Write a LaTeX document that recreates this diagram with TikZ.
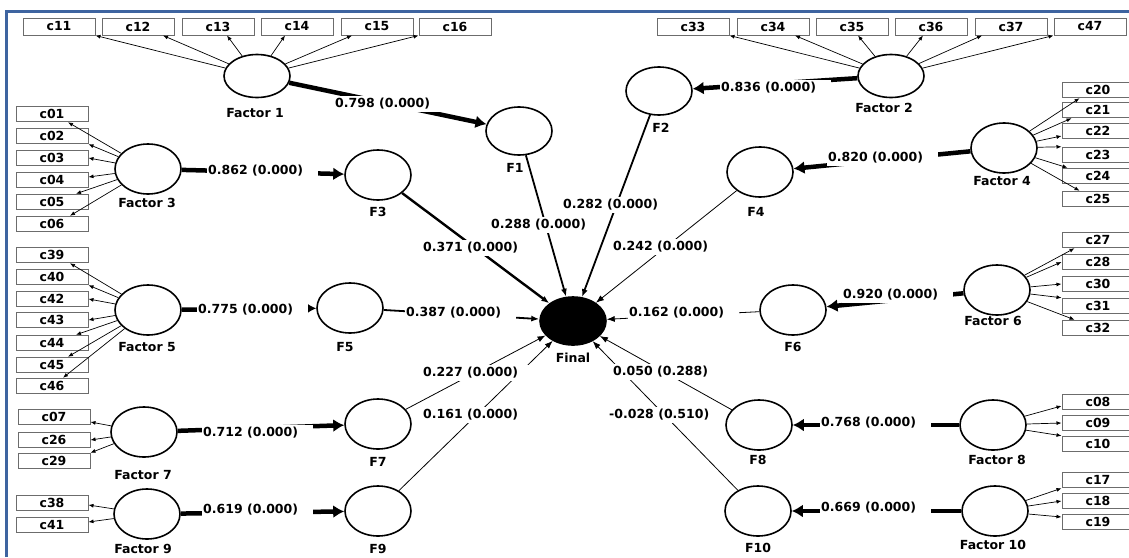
\documentclass[tikz,border=0pt]{standalone}
\usepackage{fontspec}
\setmainfont{DejaVu Sans}
\usetikzlibrary{shapes.geometric,arrows.meta,calc}
\definecolor{framecol}{RGB}{62,100,160}
\newcommand{\coefl}[1]{#1\kern14pt}
\begin{document}
\begin{tikzpicture}[x=1pt,y=-1pt,
  font=\fontsize{12.5}{14}\selectfont\bfseries,
  lv/.style={ellipse,draw,line width=1.6pt,minimum width=66pt,minimum height=50pt,inner sep=0pt},
  ind/.style={rectangle,draw=gray!85!black,line width=1pt,minimum width=72pt,minimum height=15.5pt,inner sep=0pt},
  txt/.style={inner sep=0pt},
  lbl/.style={fill=white,inner xsep=1pt,inner ysep=2pt,anchor=west},
  loadarrow/.style={line width=0.7pt,-{Latex[length=5pt,width=4pt]}},
  facarrow/.style={line width=4.5pt,-{Latex[length=11pt,width=13pt]}},
  finarrow/.style={line width=0.8pt,-{Latex[length=8pt,width=6pt]}},
]
\useasboundingbox (0,0) rectangle (1129,557);
\clip (0,0) rectangle (1129,557);
\fill[white] (0,0) rectangle (1129,557);
\draw[framecol,line width=3pt] (6,557) -- (6,11) -- (1135,11);

% latent variables
\node[lv,minimum height=43pt] (fa1) at (257,76) {};
\node[lv,minimum height=43pt] (fa2) at (891,76) {};
\node[lv] (fa3) at (148,169) {};
\node[lv] (fa4) at (1004,148) {};
\node[lv] (fa5) at (148,310) {};
\node[lv] (fa6) at (997,290) {};
\node[lv] (fa7) at (144,432) {};
\node[lv] (fa8) at (993,425) {};
\node[lv] (fa9) at (147,514) {};
\node[lv] (fa10) at (995,511) {};
\node[lv,minimum height=48pt] (f1) at (519,131) {};
\node[lv,minimum height=48pt] (f2) at (659,91) {};
\node[lv] (f3) at (378,175) {};
\node[lv] (f4) at (760,172) {};
\node[lv] (f5) at (350,308) {};
\node[lv] (f6) at (793,310) {};
\node[lv] (f7) at (378,424) {};
\node[lv] (f8) at (759,425) {};
\node[lv] (f9) at (378,511) {};
\node[lv] (f10) at (758,511) {};
\node[lv,minimum height=48pt,fill=black] (fin) at (573,321) {};

% names
\node[txt] (tfa1) at (255,113) {Factor 1};
\node[txt] (tfa2) at (884,108) {Factor 2};
\node[txt] (tfa3) at (147,203) {Factor 3};
\node[txt] (tfa4) at (1002,181) {Factor 4};
\node[txt] (tfa5) at (147,347) {Factor 5};
\node[txt] (tfa6) at (993,321) {Factor 6};
\node[txt] (tfa7) at (143,475) {Factor 7};
\node[txt] (tfa8) at (997,460) {Factor 8};
\node[txt] (tfa9) at (143,549) {Factor 9};
\node[txt] (tfa10) at (993,545) {Factor 10};
\node[txt] (tf1) at (515,168) {F1};
\node[txt] (tf2) at (661,128) {F2};
\node[txt] (tf3) at (378,212) {F3};
\node[txt] (tf4) at (756,212) {F4};
\node[txt] (tf5) at (345,347) {F5};
\node[txt] (tf6) at (793,347) {F6};
\node[txt] (tf7) at (378,462) {F7};
\node[txt] (tf8) at (758,460) {F8};
\node[txt] (tf9) at (378,549) {F9};
\node[txt] (tf10) at (758,548) {F10};
\node[txt] (tfin) at (573,358) {Final};

% indicators
\foreach \n/\x in {c11/59,c12/138,c13/218,c14/297,c15/377,c16/455,c33/693,c34/773,c35/852,c36/931,c37/1011,c47/1090}
  \node[ind,minimum height=17pt] (\n) at (\x,26.5) {\n};
\foreach \n/\y in {c01/114,c02/136,c03/158,c04/180,c05/202,c06/224,c39/255,c40/277,c42/299,c43/320,c44/343,c45/365,c46/386,c38/503,c41/525}
  \node[ind] (\n) at (52,\y) {\n};
\foreach \n/\y in {c07/417,c26/440,c29/461}
  \node[ind] (\n) at (54,\y) {\n};
\foreach \n/\y in {c20/90,c21/110,c22/131,c23/155,c24/176,c25/199,c27/240,c28/262,c30/284,c31/306,c32/328,c08/402,c09/423,c10/444,c17/480,c18/501,c19/522}
  \node[ind] (\n) at (1098,\y) {\n};

% loadings
\draw[loadarrow] (fa1) -- (c11.south east);
\draw[loadarrow] (fa1) -- ($(c12.south)+(25,0)$);
\draw[loadarrow] (fa1) -- ($(c13.south)+(9,0)$);
\draw[loadarrow] (fa1) -- ($(c14.south)+(-12,0)$);
\draw[loadarrow] (fa1) -- ($(c15.south)+(-25,0)$);
\draw[loadarrow] (fa1) -- (c16.south west);
\draw[loadarrow] (fa2) -- (c33.south east);
\draw[loadarrow] (fa2) -- ($(c34.south)+(22,0)$);
\draw[loadarrow] (fa2) -- ($(c35.south)+(6,0)$);
\draw[loadarrow] (fa2) -- ($(c36.south)+(-8,0)$);
\draw[loadarrow] (fa2) -- ($(c37.south)+(-29,0)$);
\draw[loadarrow] (fa2) -- (c47.south west);
\draw[loadarrow] (fa3) -- ($(c01.south)+(16,0)$);
\draw[loadarrow] (fa3) -- (c02.south east);
\draw[loadarrow] (fa3) -- (c03.east);
\draw[loadarrow] (fa3) -- ($(c04.east)+(0,-3)$);
\draw[loadarrow] (fa3) -- ($(c05.north)+(24,0)$);
\draw[loadarrow] (fa3) -- ($(c06.north)+(18,0)$);
\draw[loadarrow] (fa5) -- ($(c39.south)+(18,0)$);
\draw[loadarrow] (fa5) -- (c40.south east);
\draw[loadarrow] (fa5) -- (c42.east);
\draw[loadarrow] (fa5) -- (c43.east);
\draw[loadarrow] (fa5) -- ($(c44.north)+(24,0)$);
\draw[loadarrow] (fa5) -- ($(c45.north)+(16,0)$);
\draw[loadarrow] (fa5) -- ($(c46.north)+(11,0)$);
\draw[loadarrow] (fa7) -- ($(c07.east)+(0,5)$);
\draw[loadarrow] (fa7) -- (c26.east);
\draw[loadarrow] (fa7) -- (c29.north east);
\draw[loadarrow] (fa9) -- ($(c38.east)+(0,2)$);
\draw[loadarrow] (fa9) -- ($(c41.east)+(0,-3)$);
\draw[loadarrow] (fa4) -- ($(c20.south west)+(18,0)$);
\draw[loadarrow] (fa4) -- ($(c21.south west)+(10,0)$);
\draw[loadarrow] (fa4) -- ($(c22.west)+(0,5)$);
\draw[loadarrow] (fa4) -- (c23.north west);
\draw[loadarrow] (fa4) -- ($(c24.north west)+(6,0)$);
\draw[loadarrow] (fa4) -- ($(c25.north west)+(18,0)$);
\draw[loadarrow] (fa6) -- ($(c27.south west)+(13,0)$);
\draw[loadarrow] (fa6) -- (c28.west);
\draw[loadarrow] (fa6) -- (c30.west);
\draw[loadarrow] (fa6) -- (c31.north west);
\draw[loadarrow] (fa6) -- ($(c32.north west)+(13,0)$);
\draw[loadarrow] (fa8) -- ($(c08.west)+(0,4)$);
\draw[loadarrow] (fa8) -- (c09.west);
\draw[loadarrow] (fa8) -- (c10.north west);
\draw[loadarrow] (fa10) -- (c17.south west);
\draw[loadarrow] (fa10) -- (c18.west);
\draw[loadarrow] (fa10) -- ($(c19.west)+(0,-5)$);

% factor -> F
\draw[facarrow] (fa1) -- (f1);
\draw[facarrow] (fa2) -- (f2);
\draw[facarrow] (fa3) -- (f3);
\draw[facarrow] (fa4) -- (f4);
\draw[facarrow] (fa5) -- (f5);
\draw[facarrow] (fa6) -- (f6);
\draw[facarrow] (fa7) -- (f7);
\draw[facarrow] (fa8) -- (f8);
\draw[facarrow] (fa9) -- (f9);
\draw[facarrow] (fa10) -- (f10);

% F -> Final
\draw[finarrow,line width=1.8pt] (f1) -- (fin);
\draw[finarrow,line width=1.8pt] (f2) -- (fin);
\draw[finarrow,line width=2.4pt] (f3) -- (fin);
\draw[finarrow] (f4) -- (fin);
\draw[finarrow,line width=1.8pt] (f5) -- (fin);
\draw[finarrow] (f6) -- (fin);
\draw[finarrow] (f7) -- (fin);
\draw[finarrow] (f8) -- (fin);
\draw[finarrow] (f9) -- (fin);
\draw[finarrow] (f10) -- (fin);

% coefficients
\node[lbl] (l1) at (334,104) {\coefl{0.798 (0.000)}};
\node[lbl] (l2) at (720,88) {\coefl{0.836 (0.000)}};
\node[lbl] (l3) at (207,171) {\coefl{0.862 (0.000)}};
\node[lbl] (l4) at (827,158) {\coefl{0.820 (0.000)}};
\node[lbl] (l5) at (197,310) {\coefl{0.775 (0.000)}};
\node[lbl] (l6) at (842,295) {\coefl{0.920 (0.000)}};
\node[lbl] (l7) at (202,433) {\coefl{0.712 (0.000)}};
\node[lbl] (l9) at (202,510) {\coefl{0.619 (0.000)}};
\node[lbl] (l8) at (820,423) {\coefl{0.768 (0.000)}};
\node[lbl] (l10) at (820,508) {\coefl{0.669 (0.000)}};
\node[lbl] (m1) at (490,225) {\coefl{0.288 (0.000)}};
\node[lbl] (m2) at (562,205) {\coefl{0.282 (0.000)}};
\node[lbl] (m3) at (422,248) {\coefl{0.371 (0.000)}};
\node[lbl] (m4) at (612,247) {\coefl{0.242 (0.000)}};
\node[lbl] (m5) at (405,313) {\coefl{0.387 (0.000)}};
\node[lbl] (m6) at (628,313) {\coefl{0.162 (0.000)}};
\node[lbl] (m7) at (422,373) {\coefl{0.227 (0.000)}};
\node[lbl] (m9) at (422,415) {\coefl{0.161 (0.000)}};
\node[lbl] (m8) at (612,372) {\coefl{0.050 (0.288)}};
\node[lbl] (m10) at (608,415) {\coefl{-0.028 (0.510)}};
\end{tikzpicture}
\end{document}
